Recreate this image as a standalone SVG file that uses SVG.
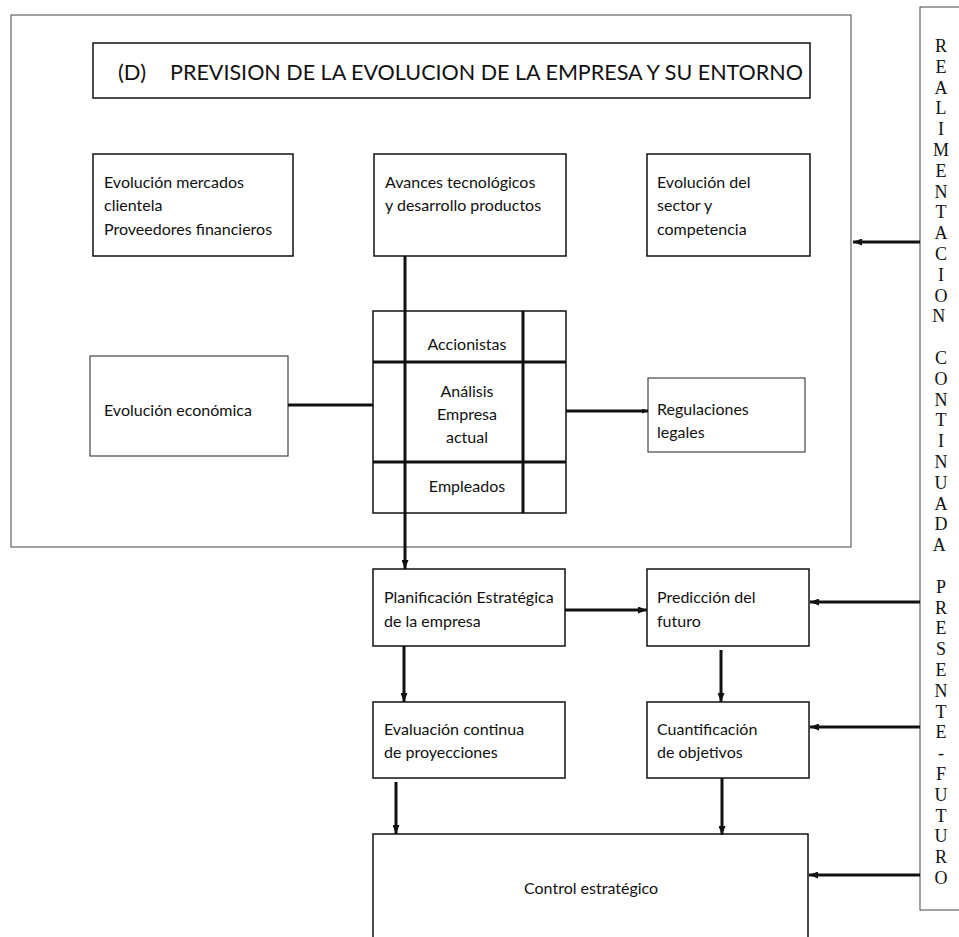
<svg xmlns="http://www.w3.org/2000/svg" width="959" height="937" viewBox="0 0 959 937">
<defs>
<marker id="ah" viewBox="0 0 9 7" refX="9" refY="3.5" markerWidth="9" markerHeight="7" markerUnits="userSpaceOnUse" orient="auto">
<path d="M0,0 L9,3.5 L0,7 z" fill="#111"/>
</marker>
<marker id="ahs" viewBox="0 0 6 5" refX="6" refY="2.5" markerWidth="6" markerHeight="5" markerUnits="userSpaceOnUse" orient="auto">
<path d="M0,0 L6,2.5 L0,5 z" fill="#111"/>
</marker>
<style>
.box{fill:#fff;stroke:#111;stroke-width:1.5}
.thin{fill:none;stroke:#444;stroke-width:1}
.lite{fill:#fff;stroke:#333;stroke-width:1.1}
.t{font-family:Lato,"Open Sans","Liberation Sans",sans-serif;font-size:16px;fill:#111}
.c{text-anchor:middle}
.conn{stroke:#111;stroke-width:3;fill:none}
.div{stroke:#111;stroke-width:3}
.v{font-family:"Liberation Serif","Times New Roman",serif;font-size:18px;fill:#111;text-anchor:middle}
</style>
</defs>

<g id="outer">
<rect class="thin" x="11" y="15" width="840" height="532"/>
</g>

<g id="title">
<rect class="box" x="93" y="43" width="717" height="55"/>
<text class="t" x="118" y="80" style="font-size:22px">(D)</text>
<text class="t" x="170" y="80" style="font-size:22px" textLength="633" lengthAdjust="spacingAndGlyphs">PREVISION DE LA EVOLUCION DE LA EMPRESA Y SU ENTORNO</text>
</g>

<g id="mercados">
<rect class="box" x="93" y="154" width="200" height="102"/>
<text class="t" x="104" y="188">Evolución mercados</text>
<text class="t" x="104" y="211">clientela</text>
<text class="t" x="104" y="235">Proveedores financieros</text>
</g>

<g id="avances">
<rect class="box" x="374" y="154" width="192" height="102"/>
<text class="t" x="385" y="188">Avances tecnológicos</text>
<text class="t" x="385" y="211">y desarrollo productos</text>
</g>

<g id="sector">
<rect class="box" x="647" y="154" width="163" height="102"/>
<text class="t" x="657" y="188">Evolución del</text>
<text class="t" x="657" y="211">sector y</text>
<text class="t" x="657" y="235">competencia</text>
</g>

<g id="economica">
<rect class="lite" x="90" y="356" width="198" height="100"/>
<text class="t" x="104" y="416">Evolución económica</text>
</g>

<g id="regulaciones">
<rect class="lite" x="648" y="378" width="157" height="74"/>
<text class="t" x="657" y="415">Regulaciones</text>
<text class="t" x="657" y="438">legales</text>
</g>

<g id="analisis">
<rect class="box" x="373" y="311" width="193" height="202"/>
<line class="div" x1="373" y1="362" x2="566" y2="362"/>
<line class="div" x1="373" y1="462" x2="566" y2="462"/>
<line class="div" x1="523" y1="311" x2="523" y2="513"/>
<text class="t c" x="467" y="350">Accionistas</text>
<text class="t c" x="467" y="397">Análisis</text>
<text class="t c" x="467" y="420">Empresa</text>
<text class="t c" x="467" y="443">actual</text>
<text class="t c" x="467" y="492">Empleados</text>
</g>

<g id="planificacion">
<rect class="box" x="373" y="569" width="192" height="77"/>
<text class="t" x="384" y="603">Planificación Estratégica</text>
<text class="t" x="384" y="627">de la empresa</text>
</g>

<g id="prediccion">
<rect class="box" x="647" y="569" width="162" height="77"/>
<text class="t" x="657" y="603">Predicción del</text>
<text class="t" x="657" y="627">futuro</text>
</g>

<g id="evaluacion">
<rect class="box" x="373" y="702" width="192" height="76"/>
<text class="t" x="384" y="735">Evaluación continua</text>
<text class="t" x="384" y="758">de proyecciones</text>
</g>

<g id="cuantificacion">
<rect class="box" x="647" y="702" width="162" height="76"/>
<text class="t" x="657" y="735">Cuantificación</text>
<text class="t" x="657" y="758">de objetivos</text>
</g>

<g id="control">
<path class="box" d="M373,937 L373,834 L808,834 L808,937" fill="none"/>
<text class="t" x="524" y="894">Control estratégico</text>
</g>

<g id="realimentacion">
<rect class="thin" x="920" y="7" width="60" height="903"/>
<text class="v">
<tspan x="941" y="52">R</tspan><tspan x="941" y="72.8">E</tspan><tspan x="941" y="93.6">A</tspan><tspan x="941" y="114.4">L</tspan><tspan x="941" y="135.2">I</tspan><tspan x="941" y="156">M</tspan><tspan x="941" y="176.8">E</tspan><tspan x="941" y="197.6">N</tspan><tspan x="941" y="218.4">T</tspan><tspan x="941" y="239.2">A</tspan><tspan x="941" y="260">C</tspan><tspan x="941" y="280.8">I</tspan><tspan x="941" y="301.6">O</tspan><tspan x="941" y="322.4">N</tspan>
<tspan x="941" y="364">C</tspan><tspan x="941" y="384.8">O</tspan><tspan x="941" y="405.6">N</tspan><tspan x="941" y="426.4">T</tspan><tspan x="941" y="447.2">I</tspan><tspan x="941" y="468">N</tspan><tspan x="941" y="488.8">U</tspan><tspan x="941" y="509.6">A</tspan><tspan x="941" y="530.4">D</tspan><tspan x="941" y="551.2">A</tspan>
<tspan x="941" y="592.8">P</tspan><tspan x="941" y="613.6">R</tspan><tspan x="941" y="634.4">E</tspan><tspan x="941" y="655.2">S</tspan><tspan x="941" y="676">E</tspan><tspan x="941" y="696.8">N</tspan><tspan x="941" y="717.6">T</tspan><tspan x="941" y="738.4">E</tspan><tspan x="941" y="759.2">-</tspan><tspan x="941" y="780">F</tspan><tspan x="941" y="800.8">U</tspan><tspan x="941" y="821.6">T</tspan><tspan x="941" y="842.4">U</tspan><tspan x="941" y="863.2">R</tspan><tspan x="941" y="884">O</tspan>
</text>
</g>

<g id="connectors">
<line class="conn" x1="405" y1="256" x2="405" y2="569" marker-end="url(#ah)"/>
<line class="conn" x1="288" y1="405" x2="373" y2="405"/>
<line class="conn" x1="566" y1="411" x2="648" y2="411" marker-end="url(#ahs)"/>
<line class="conn" x1="565" y1="610" x2="647" y2="610" marker-end="url(#ah)"/>
<line class="conn" x1="404" y1="646" x2="404" y2="702" marker-end="url(#ah)"/>
<line class="conn" x1="721" y1="650" x2="721" y2="702" marker-end="url(#ah)"/>
<line class="conn" x1="396" y1="782" x2="396" y2="834" marker-end="url(#ah)"/>
<line class="conn" x1="722" y1="778" x2="722" y2="835" marker-end="url(#ah)"/>
<line class="conn" x1="920" y1="242" x2="853" y2="242" marker-end="url(#ah)"/>
<line class="conn" x1="920" y1="602" x2="810" y2="602" marker-end="url(#ah)"/>
<line class="conn" x1="920" y1="727" x2="810" y2="727" marker-end="url(#ah)"/>
<line class="conn" x1="920" y1="875" x2="809" y2="875" marker-end="url(#ah)"/>
</g>
</svg>
